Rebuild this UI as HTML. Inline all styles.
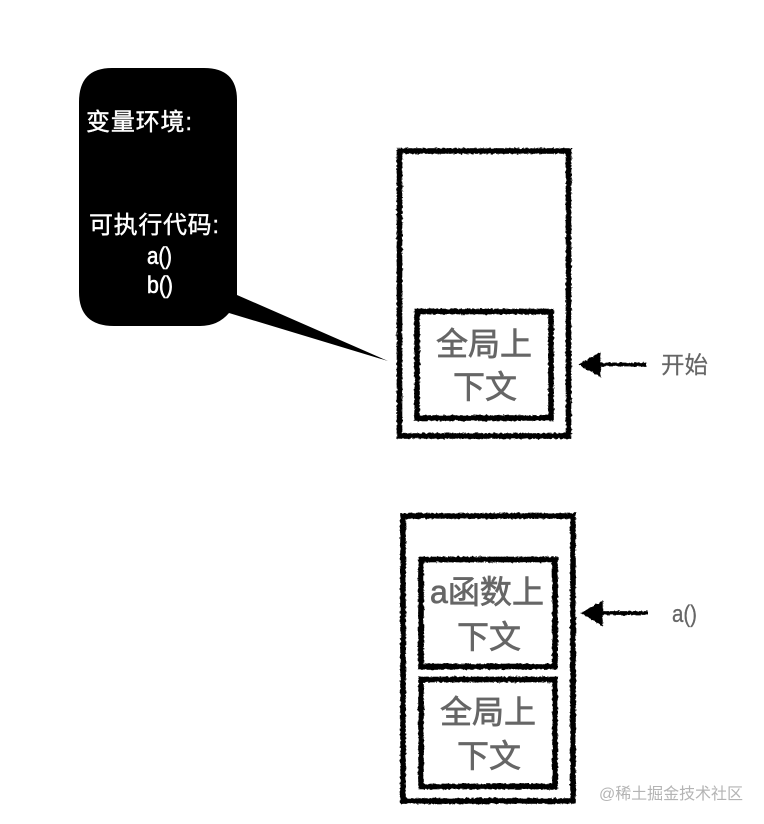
<!DOCTYPE html>
<html><head><meta charset="utf-8"><style>
html,body{margin:0;padding:0;background:#fff}
svg{display:block}
text{font-family:"Liberation Sans","Noto Sans CJK SC",sans-serif}
.m{font-size:32px;fill:#666;stroke:#666;stroke-width:.7px;text-anchor:middle}
.w{font-size:24px;fill:#fff;stroke:#fff;stroke-width:.4px}
</style></head><body>
<svg width="764" height="824" viewBox="0 0 764 824" xmlns="http://www.w3.org/2000/svg">
<defs><filter id="r" x="-5%" y="-5%" width="110%" height="110%">
<feTurbulence type="fractalNoise" baseFrequency="0.35" numOctaves="2" seed="4"/>
<feDisplacementMap in="SourceGraphic" scale="3.200" xChannelSelector="R" yChannelSelector="G"/>
</filter></defs>
<rect width="764" height="824" fill="#fff"/>

<path d="M112 68H204Q237 68 237 100V295L388 361L229 313Q218 326 200 326H114Q79 326 79 292V102Q79 68 112 68Z" fill="#000"/>
<text class="w" x="86" y="130" textLength="106" lengthAdjust="spacing">变量环境:</text>
<text class="w" x="89" y="233" textLength="130" lengthAdjust="spacing">可执行代码:</text>
<text class="w" x="147" y="264" style="font-size:24px;stroke-width:.6px" textLength="25" lengthAdjust="spacingAndGlyphs">a()</text>
<text class="w" x="147" y="293" style="font-size:24px;stroke-width:.6px" textLength="26" lengthAdjust="spacingAndGlyphs">b()</text>

<g filter="url(#r)" fill="none" stroke="#000" stroke-width="5.600">
<rect x="399.5" y="151" width="169" height="285"/>
<rect x="417" y="311.5" width="134" height="106.5"/>
<rect x="403" y="516" width="170" height="285"/>
<rect x="421" y="559.5" width="134" height="107"/>
<rect x="421" y="679.5" width="134" height="107"/>
<path d="M598 364.500H646M600 613H648" stroke-width="3.800"/>
<path d="M580 364.500L600 353V376Z" fill="#000" stroke-width="1.500"/>
<path d="M582 613L602 602V625Z" fill="#000" stroke-width="1.500"/>
</g>

<text class="m" x="484" y="355">全局上</text>
<text class="m" x="485" y="398">下文</text>
<text class="m" x="487" y="603" textLength="114" lengthAdjust="spacing">a函数上</text>
<text class="m" x="489" y="648">下文</text>
<text class="m" x="488" y="723">全局上</text>
<text class="m" x="489" y="767">下文</text>

<text x="661" y="373" style="font-size:23.500px;stroke:#666;stroke-width:.2px" fill="#666">开始</text>
<text x="672" y="622" style="font-size:24px;stroke:#666;stroke-width:.3px" fill="#666" textLength="25" lengthAdjust="spacingAndGlyphs">a()</text>
<text x="599" y="799" style="font-size:16px" fill="#b4b4b4" textLength="144" lengthAdjust="spacing">@稀土掘金技术社区</text>
</svg>
</body></html>
